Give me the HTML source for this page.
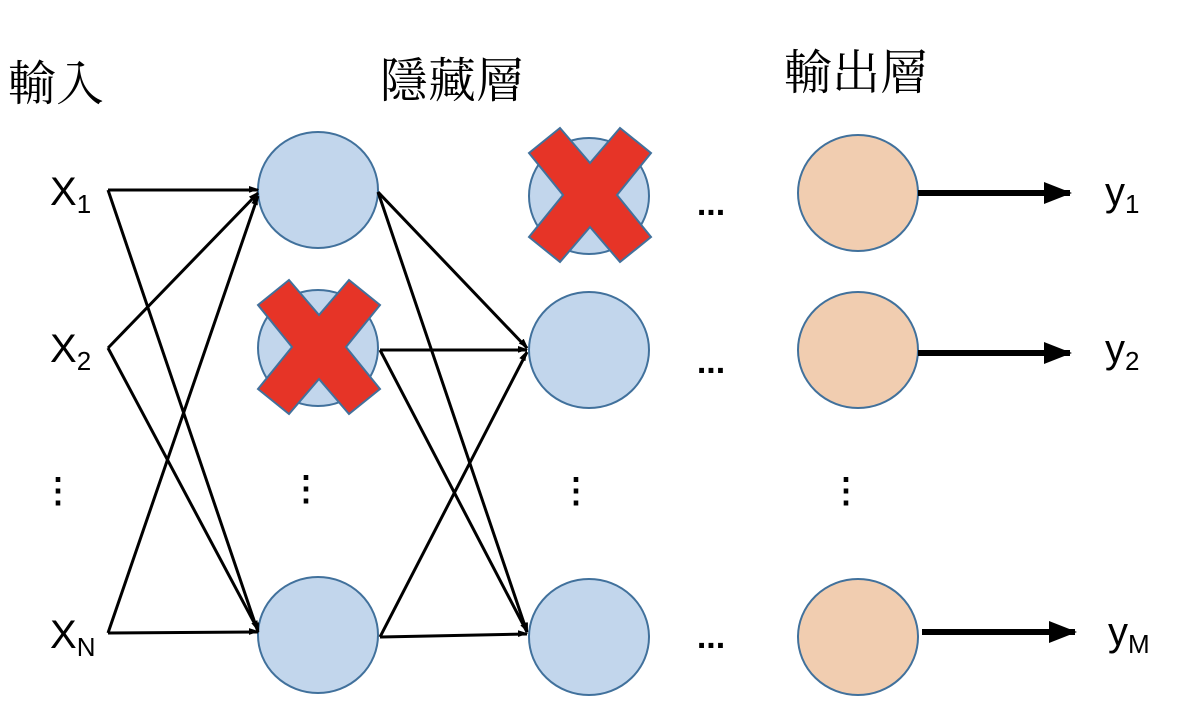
<!DOCTYPE html>
<html><head><meta charset="utf-8"><style>
body{margin:0;background:#fff;width:1182px;height:700px;overflow:hidden}
svg text{font-family:"Liberation Sans",sans-serif}
.cjk{font-family:"Liberation Serif","Noto Serif CJK TC","Noto Serif CJK SC",serif;font-size:48px}
</style></head><body>
<svg width="1182" height="700" viewBox="0 0 1182 700">
<defs>
<marker id="a" markerWidth="10" markerHeight="8" refX="9" refY="4" orient="auto" markerUnits="userSpaceOnUse"><path d="M0,0L12,4L0,8Z" fill="#000" transform="scale(0.85)"/></marker>
<marker id="b" markerWidth="28" markerHeight="22" refX="26" refY="11" orient="auto" markerUnits="userSpaceOnUse"><path d="M0,0L28,11L0,22Z" fill="#000"/></marker>
</defs>
<text class="cjk" x="8" y="100">輸入</text>
<text class="cjk" x="380" y="97">隱藏層</text>
<text class="cjk" x="784" y="89">輸出層</text>
<g font-size="40">
<text x="50" y="205">X<tspan font-size="26" dy="8">1</tspan></text>
<text x="50" y="362">X<tspan font-size="26" dy="8">2</tspan></text>
<text x="50" y="648">X<tspan font-size="26" dy="8">N</tspan></text>
<text x="1105" y="205">y<tspan font-size="26" dy="8">1</tspan></text>
<text x="1105" y="362">y<tspan font-size="26" dy="8">2</tspan></text>
<text x="1108" y="645">y<tspan font-size="26" dy="8">M</tspan></text>
</g>
<g font-size="34" font-weight="bold" text-anchor="middle">
<text x="58" y="502">⋮</text><text x="306" y="500">⋮</text><text x="576" y="502">⋮</text><text x="846" y="502">⋮</text>
</g>
<g font-size="34" font-weight="bold" text-anchor="middle">
<text x="711" y="215">...</text><text x="711" y="373">...</text><text x="711" y="648">...</text>
</g>
<g fill="#c2d6ec" stroke="#41719c" stroke-width="2">
<ellipse cx="318" cy="190" rx="60" ry="58"/>
<ellipse cx="318" cy="348" rx="60" ry="58"/>
<ellipse cx="318" cy="635" rx="60" ry="58"/>
<ellipse cx="589" cy="196" rx="60" ry="58"/>
<ellipse cx="589" cy="350" rx="60" ry="58"/>
<ellipse cx="589" cy="637" rx="60" ry="58"/>
</g>
<g fill="#f1cdb0" stroke="#41719c" stroke-width="2">
<ellipse cx="858" cy="193" rx="60" ry="58"/>
<ellipse cx="858" cy="350" rx="60" ry="58"/>
<ellipse cx="858" cy="637" rx="60" ry="58"/>
</g>
<g stroke="#000" stroke-width="3" fill="none" marker-end="url(#a)">
<line x1="108" y1="190" x2="258" y2="190"/>
<line x1="108" y1="190" x2="258" y2="632"/>
<line x1="108" y1="348" x2="258" y2="193"/>
<line x1="108" y1="348" x2="258" y2="630"/>
<line x1="108" y1="633" x2="258" y2="196"/>
<line x1="108" y1="633" x2="258" y2="632"/>
<line x1="378" y1="192" x2="527" y2="348"/>
<line x1="378" y1="192" x2="527" y2="632"/>
<line x1="380" y1="350" x2="527" y2="350"/>
<line x1="380" y1="350" x2="527" y2="632"/>
<line x1="380" y1="637" x2="527" y2="352"/>
<line x1="380" y1="637" x2="527" y2="634"/>
</g>
<g stroke="#000" stroke-width="6" marker-end="url(#b)">
<line x1="918" y1="193" x2="1070" y2="193"/>
<line x1="918" y1="353" x2="1070" y2="353"/>
<line x1="922" y1="632" x2="1075" y2="632"/>
</g>
<g fill="#e63427" stroke="#41719c" stroke-width="2">
<polygon transform="translate(319,347)" points="-30,-67 0,-32 30,-67 61,-42 27,0 61,42 30,67 0,32 -30,67 -61,42 -27,0 -61,-42"/>
<polygon transform="translate(590,195)" points="-30,-67 0,-32 30,-67 61,-42 27,0 61,42 30,67 0,32 -30,67 -61,42 -27,0 -61,-42"/>
</g>
</svg>
</body></html>
